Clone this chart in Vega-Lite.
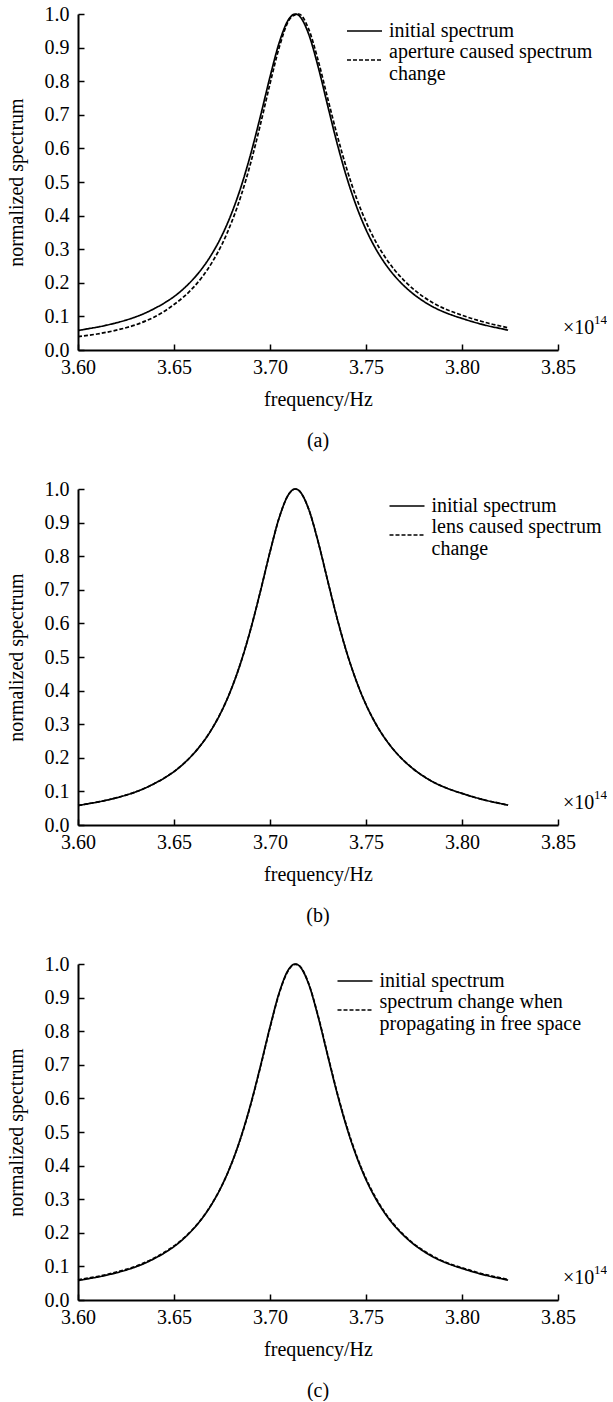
{
  "$schema": "https://vega.github.io/schema/vega-lite/v6.json",
  "background": "white",
  "padding": {"left": 6, "top": 4, "right": 0, "bottom": 0},
  "config": {
    "font": "Liberation Serif",
    "view": {"stroke": null},
    "concat": {"spacing": 28},
    "axis": {
      "grid": false,
      "domainColor": "black",
      "domainWidth": 2,
      "tickColor": "black",
      "tickWidth": 1.5,
      "tickSize": -6,
      "labelColor": "black",
      "labelFont": "Liberation Serif",
      "labelFontSize": 20,
      "labelFlush": false,
      "labelOverlap": false,
      "titleFont": "Liberation Serif",
      "titleFontSize": 20,
      "titleFontWeight": "normal",
      "titleColor": "black"
    },
    "axisX": {"labelPadding": 13, "titlePadding": 12},
    "axisY": {"labelPadding": 15, "titlePadding": 18},
    "legend": {
      "orient": "none",
      "title": null,
      "labelFont": "Liberation Serif",
      "labelFontSize": 20,
      "labelColor": "black",
      "labelLimit": 0,
      "labelOffset": 13.5,
      "symbolType": "M-1.75,0H1.75",
      "symbolSize": 400,
      "symbolStrokeWidth": 1.7,
      "symbolStrokeColor": "black",
      "rowPadding": 0
    },
    "title": {"font": "Liberation Serif", "fontSize": 20, "fontWeight": "normal", "color": "black"}
  },
  "datasets": {
    "initial": [
      {"freq": 3.6, "value": 0.058}, {"freq": 3.605, "value": 0.063}, {"freq": 3.61, "value": 0.068}, {"freq": 3.615, "value": 0.074},
      {"freq": 3.62, "value": 0.081}, {"freq": 3.625, "value": 0.089}, {"freq": 3.63, "value": 0.0985}, {"freq": 3.635, "value": 0.11},
      {"freq": 3.64, "value": 0.124}, {"freq": 3.645, "value": 0.14}, {"freq": 3.65, "value": 0.159}, {"freq": 3.655, "value": 0.1825},
      {"freq": 3.66, "value": 0.211}, {"freq": 3.665, "value": 0.2456}, {"freq": 3.67, "value": 0.2884}, {"freq": 3.675, "value": 0.3413},
      {"freq": 3.68, "value": 0.4069}, {"freq": 3.685, "value": 0.4874}, {"freq": 3.69, "value": 0.5842}, {"freq": 3.695, "value": 0.6954},
      {"freq": 3.7, "value": 0.8127}, {"freq": 3.705, "value": 0.9183}, {"freq": 3.71, "value": 0.9866}, {"freq": 3.7132, "value": 1.0},
      {"freq": 3.715, "value": 0.9957}, {"freq": 3.72, "value": 0.9424}, {"freq": 3.725, "value": 0.8445}, {"freq": 3.73, "value": 0.7282},
      {"freq": 3.735, "value": 0.6141}, {"freq": 3.74, "value": 0.5129}, {"freq": 3.745, "value": 0.4279}, {"freq": 3.75, "value": 0.3583},
      {"freq": 3.755, "value": 0.3021}, {"freq": 3.76, "value": 0.2567}, {"freq": 3.765, "value": 0.2199}, {"freq": 3.77, "value": 0.1899},
      {"freq": 3.775, "value": 0.1653}, {"freq": 3.78, "value": 0.1449}, {"freq": 3.785, "value": 0.128}, {"freq": 3.79, "value": 0.1145},
      {"freq": 3.795, "value": 0.1035}, {"freq": 3.8, "value": 0.094}, {"freq": 3.805, "value": 0.085}, {"freq": 3.81, "value": 0.077},
      {"freq": 3.815, "value": 0.07}, {"freq": 3.82, "value": 0.064}, {"freq": 3.824, "value": 0.059}
    ],
    "aperture": [
      {"freq": 3.6, "value": 0.04}, {"freq": 3.605, "value": 0.0435}, {"freq": 3.61, "value": 0.0476}, {"freq": 3.615, "value": 0.0529},
      {"freq": 3.62, "value": 0.0591}, {"freq": 3.625, "value": 0.0663}, {"freq": 3.63, "value": 0.0749}, {"freq": 3.635, "value": 0.0859},
      {"freq": 3.64, "value": 0.099}, {"freq": 3.645, "value": 0.1154}, {"freq": 3.65, "value": 0.1353}, {"freq": 3.655, "value": 0.1579},
      {"freq": 3.66, "value": 0.1856}, {"freq": 3.665, "value": 0.2198}, {"freq": 3.67, "value": 0.2624}, {"freq": 3.675, "value": 0.3147},
      {"freq": 3.68, "value": 0.3805}, {"freq": 3.685, "value": 0.4606}, {"freq": 3.69, "value": 0.5579}, {"freq": 3.695, "value": 0.6711},
      {"freq": 3.7, "value": 0.7924}, {"freq": 3.705, "value": 0.9045}, {"freq": 3.71, "value": 0.983}, {"freq": 3.7132, "value": 0.998},
      {"freq": 3.715, "value": 1.0}, {"freq": 3.72, "value": 0.957}, {"freq": 3.725, "value": 0.8635}, {"freq": 3.73, "value": 0.75},
      {"freq": 3.735, "value": 0.6387}, {"freq": 3.74, "value": 0.5385}, {"freq": 3.745, "value": 0.4527}, {"freq": 3.75, "value": 0.3816},
      {"freq": 3.755, "value": 0.3232}, {"freq": 3.76, "value": 0.276}, {"freq": 3.765, "value": 0.2375}, {"freq": 3.77, "value": 0.206},
      {"freq": 3.775, "value": 0.1798}, {"freq": 3.78, "value": 0.1579}, {"freq": 3.785, "value": 0.1399}, {"freq": 3.79, "value": 0.1254},
      {"freq": 3.795, "value": 0.1136}, {"freq": 3.8, "value": 0.1034}, {"freq": 3.805, "value": 0.0939}, {"freq": 3.81, "value": 0.0855},
      {"freq": 3.815, "value": 0.0778}, {"freq": 3.82, "value": 0.0714}, {"freq": 3.824, "value": 0.0661}
    ],
    "free": [
      {"freq": 3.6, "value": 0.06}, {"freq": 3.605, "value": 0.065}, {"freq": 3.61, "value": 0.07}, {"freq": 3.615, "value": 0.076},
      {"freq": 3.62, "value": 0.083}, {"freq": 3.625, "value": 0.091}, {"freq": 3.63, "value": 0.1}, {"freq": 3.635, "value": 0.112},
      {"freq": 3.64, "value": 0.126}, {"freq": 3.645, "value": 0.142}, {"freq": 3.65, "value": 0.161}, {"freq": 3.655, "value": 0.184},
      {"freq": 3.66, "value": 0.212}, {"freq": 3.665, "value": 0.246}, {"freq": 3.67, "value": 0.289}, {"freq": 3.675, "value": 0.341},
      {"freq": 3.68, "value": 0.406}, {"freq": 3.685, "value": 0.486}, {"freq": 3.69, "value": 0.582}, {"freq": 3.695, "value": 0.693},
      {"freq": 3.7, "value": 0.81}, {"freq": 3.705, "value": 0.916}, {"freq": 3.71, "value": 0.985}, {"freq": 3.7132, "value": 0.999},
      {"freq": 3.715, "value": 0.996}, {"freq": 3.72, "value": 0.944}, {"freq": 3.725, "value": 0.847}, {"freq": 3.73, "value": 0.731},
      {"freq": 3.735, "value": 0.617}, {"freq": 3.74, "value": 0.516}, {"freq": 3.745, "value": 0.431}, {"freq": 3.75, "value": 0.361},
      {"freq": 3.755, "value": 0.305}, {"freq": 3.76, "value": 0.259}, {"freq": 3.765, "value": 0.222}, {"freq": 3.77, "value": 0.192},
      {"freq": 3.775, "value": 0.167}, {"freq": 3.78, "value": 0.147}, {"freq": 3.785, "value": 0.13}, {"freq": 3.79, "value": 0.116},
      {"freq": 3.795, "value": 0.105}, {"freq": 3.8, "value": 0.096}, {"freq": 3.805, "value": 0.087}, {"freq": 3.81, "value": 0.079},
      {"freq": 3.815, "value": 0.072}, {"freq": 3.82, "value": 0.066}, {"freq": 3.824, "value": 0.061}
    ],
    "unit": [{"label": "×10", "exp": "14"}]
  },
  "resolve": {"scale": {"strokeDash": "independent"}, "legend": {"strokeDash": "independent"}},
  "vconcat": [
    {
      "width": 480,
      "height": 336,
      "title": {"text": "(a)", "orient": "bottom", "offset": 22},
      "layer": [
        {
          "data": {"name": "initial"},
          "mark": {"type": "line", "stroke": "black", "strokeWidth": 1.7, "interpolate": "monotone"},
          "encoding": {
            "x": {"field": "freq", "type": "quantitative", "scale": {"domain": [3.6, 3.85], "nice": false, "zero": false}, "axis": {"values": [3.6, 3.65, 3.7, 3.75, 3.8, 3.85], "format": ".2f", "title": "frequency/Hz"}},
            "y": {"field": "value", "type": "quantitative", "scale": {"domain": [0, 1], "nice": false}, "axis": {"values": [0, 0.1, 0.2, 0.3, 0.4, 0.5, 0.6, 0.7, 0.8, 0.9, 1.0], "format": ".1f", "title": "normalized spectrum"}},
            "strokeDash": {"datum": "initial spectrum", "type": "nominal", "scale": {"domain": ["initial spectrum", "aperture caused spectrum change"], "range": [[1, 0], [4, 2]]},
              "legend": {"legendX": 275.5, "legendY": 6, "labelExpr": "datum.label == 'aperture caused spectrum change' ? ['aperture caused spectrum', 'change'] : datum.label",
                "encode": {"symbols": {"update": {"shape": {"signal": "datum.value == 'initial spectrum' ? 'M-1.75,0H1.75' : 'M-1.75,0.8H1.75'"}}}}}}
          }
        },
        {
          "data": {"name": "aperture"},
          "mark": {"type": "line", "stroke": "black", "strokeWidth": 1.7, "interpolate": "monotone"},
          "encoding": {
            "x": {"field": "freq", "type": "quantitative", "axis": {"values": [3.6, 3.65, 3.7, 3.75, 3.8, 3.85], "format": ".2f", "title": "frequency/Hz"}},
            "y": {"field": "value", "type": "quantitative", "axis": {"values": [0, 0.1, 0.2, 0.3, 0.4, 0.5, 0.6, 0.7, 0.8, 0.9, 1.0], "format": ".1f", "title": "normalized spectrum"}},
            "strokeDash": {"datum": "aperture caused spectrum change", "type": "nominal"}
          }
        },
        {
          "data": {"name": "unit"},
          "mark": {"type": "text", "align": "left", "baseline": "middle", "dx": 5, "fontSize": 20, "color": "black"},
          "encoding": {
            "x": {"datum": 3.85, "type": "quantitative", "axis": {"values": [3.6, 3.65, 3.7, 3.75, 3.8, 3.85], "format": ".2f", "title": "frequency/Hz"}},
            "y": {"datum": 0.065, "type": "quantitative", "axis": {"values": [0, 0.1, 0.2, 0.3, 0.4, 0.5, 0.6, 0.7, 0.8, 0.9, 1.0], "format": ".1f", "title": "normalized spectrum"}},
            "text": {"field": "label"}
          }
        },
        {
          "data": {"name": "unit"},
          "mark": {"type": "text", "align": "left", "baseline": "middle", "dx": 36, "dy": -8, "fontSize": 13, "color": "black"},
          "encoding": {
            "x": {"datum": 3.85, "type": "quantitative", "axis": {"values": [3.6, 3.65, 3.7, 3.75, 3.8, 3.85], "format": ".2f", "title": "frequency/Hz"}},
            "y": {"datum": 0.065, "type": "quantitative", "axis": {"values": [0, 0.1, 0.2, 0.3, 0.4, 0.5, 0.6, 0.7, 0.8, 0.9, 1.0], "format": ".1f", "title": "normalized spectrum"}},
            "text": {"field": "exp"}
          }
        }
      ]
    },
    {
      "width": 480,
      "height": 336,
      "title": {"text": "(b)", "orient": "bottom", "offset": 22},
      "layer": [
        {
          "data": {"name": "initial"},
          "mark": {"type": "line", "stroke": "black", "strokeWidth": 1.7, "interpolate": "monotone"},
          "encoding": {
            "x": {"field": "freq", "type": "quantitative", "scale": {"domain": [3.6, 3.85], "nice": false, "zero": false}, "axis": {"values": [3.6, 3.65, 3.7, 3.75, 3.8, 3.85], "format": ".2f", "title": "frequency/Hz"}},
            "y": {"field": "value", "type": "quantitative", "scale": {"domain": [0, 1], "nice": false}, "axis": {"values": [0, 0.1, 0.2, 0.3, 0.4, 0.5, 0.6, 0.7, 0.8, 0.9, 1.0], "format": ".1f", "title": "normalized spectrum"}},
            "strokeDash": {"datum": "initial spectrum", "type": "nominal", "scale": {"domain": ["initial spectrum", "lens caused spectrum change"], "range": [[1, 0], [4, 2]]},
              "legend": {"legendX": 318, "legendY": 6, "labelExpr": "datum.label == 'lens caused spectrum change' ? ['lens caused spectrum', 'change'] : datum.label",
                "encode": {"symbols": {"update": {"shape": {"signal": "datum.value == 'initial spectrum' ? 'M-1.75,0H1.75' : 'M-1.75,0.8H1.75'"}}}}}}
          }
        },
        {
          "data": {"name": "initial"},
          "mark": {"type": "line", "stroke": "black", "strokeWidth": 1.7, "interpolate": "monotone"},
          "encoding": {
            "x": {"field": "freq", "type": "quantitative", "axis": {"values": [3.6, 3.65, 3.7, 3.75, 3.8, 3.85], "format": ".2f", "title": "frequency/Hz"}},
            "y": {"field": "value", "type": "quantitative", "axis": {"values": [0, 0.1, 0.2, 0.3, 0.4, 0.5, 0.6, 0.7, 0.8, 0.9, 1.0], "format": ".1f", "title": "normalized spectrum"}},
            "strokeDash": {"datum": "lens caused spectrum change", "type": "nominal"}
          }
        },
        {
          "data": {"name": "unit"},
          "mark": {"type": "text", "align": "left", "baseline": "middle", "dx": 5, "fontSize": 20, "color": "black"},
          "encoding": {
            "x": {"datum": 3.85, "type": "quantitative", "axis": {"values": [3.6, 3.65, 3.7, 3.75, 3.8, 3.85], "format": ".2f", "title": "frequency/Hz"}},
            "y": {"datum": 0.065, "type": "quantitative", "axis": {"values": [0, 0.1, 0.2, 0.3, 0.4, 0.5, 0.6, 0.7, 0.8, 0.9, 1.0], "format": ".1f", "title": "normalized spectrum"}},
            "text": {"field": "label"}
          }
        },
        {
          "data": {"name": "unit"},
          "mark": {"type": "text", "align": "left", "baseline": "middle", "dx": 36, "dy": -8, "fontSize": 13, "color": "black"},
          "encoding": {
            "x": {"datum": 3.85, "type": "quantitative", "axis": {"values": [3.6, 3.65, 3.7, 3.75, 3.8, 3.85], "format": ".2f", "title": "frequency/Hz"}},
            "y": {"datum": 0.065, "type": "quantitative", "axis": {"values": [0, 0.1, 0.2, 0.3, 0.4, 0.5, 0.6, 0.7, 0.8, 0.9, 1.0], "format": ".1f", "title": "normalized spectrum"}},
            "text": {"field": "exp"}
          }
        }
      ]
    },
    {
      "width": 480,
      "height": 336,
      "title": {"text": "(c)", "orient": "bottom", "offset": 22},
      "layer": [
        {
          "data": {"name": "initial"},
          "mark": {"type": "line", "stroke": "black", "strokeWidth": 1.7, "interpolate": "monotone"},
          "encoding": {
            "x": {"field": "freq", "type": "quantitative", "scale": {"domain": [3.6, 3.85], "nice": false, "zero": false}, "axis": {"values": [3.6, 3.65, 3.7, 3.75, 3.8, 3.85], "format": ".2f", "title": "frequency/Hz"}},
            "y": {"field": "value", "type": "quantitative", "scale": {"domain": [0, 1], "nice": false}, "axis": {"values": [0, 0.1, 0.2, 0.3, 0.4, 0.5, 0.6, 0.7, 0.8, 0.9, 1.0], "format": ".1f", "title": "normalized spectrum"}},
            "strokeDash": {"datum": "initial spectrum", "type": "nominal", "scale": {"domain": ["initial spectrum", "spectrum change when propagating in free space"], "range": [[1, 0], [4, 2]]},
              "legend": {"legendX": 266, "legendY": 6, "labelExpr": "datum.label == 'spectrum change when propagating in free space' ? ['spectrum change when', 'propagating in free space'] : datum.label",
                "encode": {"symbols": {"update": {"shape": {"signal": "datum.value == 'initial spectrum' ? 'M-1.75,0H1.75' : 'M-1.75,0.8H1.75'"}}}}}}
          }
        },
        {
          "data": {"name": "free"},
          "mark": {"type": "line", "stroke": "black", "strokeWidth": 1.7, "interpolate": "monotone"},
          "encoding": {
            "x": {"field": "freq", "type": "quantitative", "axis": {"values": [3.6, 3.65, 3.7, 3.75, 3.8, 3.85], "format": ".2f", "title": "frequency/Hz"}},
            "y": {"field": "value", "type": "quantitative", "axis": {"values": [0, 0.1, 0.2, 0.3, 0.4, 0.5, 0.6, 0.7, 0.8, 0.9, 1.0], "format": ".1f", "title": "normalized spectrum"}},
            "strokeDash": {"datum": "spectrum change when propagating in free space", "type": "nominal"}
          }
        },
        {
          "data": {"name": "unit"},
          "mark": {"type": "text", "align": "left", "baseline": "middle", "dx": 5, "fontSize": 20, "color": "black"},
          "encoding": {
            "x": {"datum": 3.85, "type": "quantitative", "axis": {"values": [3.6, 3.65, 3.7, 3.75, 3.8, 3.85], "format": ".2f", "title": "frequency/Hz"}},
            "y": {"datum": 0.065, "type": "quantitative", "axis": {"values": [0, 0.1, 0.2, 0.3, 0.4, 0.5, 0.6, 0.7, 0.8, 0.9, 1.0], "format": ".1f", "title": "normalized spectrum"}},
            "text": {"field": "label"}
          }
        },
        {
          "data": {"name": "unit"},
          "mark": {"type": "text", "align": "left", "baseline": "middle", "dx": 36, "dy": -8, "fontSize": 13, "color": "black"},
          "encoding": {
            "x": {"datum": 3.85, "type": "quantitative", "axis": {"values": [3.6, 3.65, 3.7, 3.75, 3.8, 3.85], "format": ".2f", "title": "frequency/Hz"}},
            "y": {"datum": 0.065, "type": "quantitative", "axis": {"values": [0, 0.1, 0.2, 0.3, 0.4, 0.5, 0.6, 0.7, 0.8, 0.9, 1.0], "format": ".1f", "title": "normalized spectrum"}},
            "text": {"field": "exp"}
          }
        }
      ]
    }
  ]
}
